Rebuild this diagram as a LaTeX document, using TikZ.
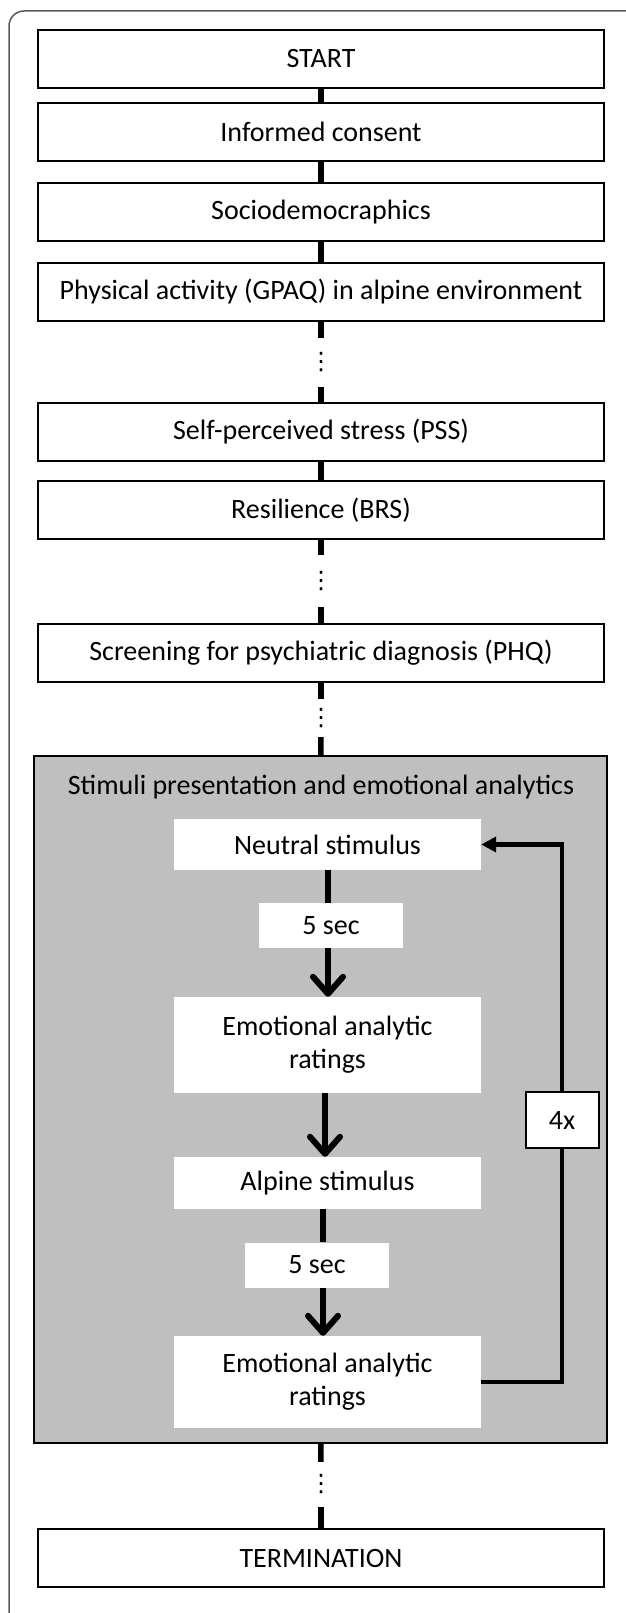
\documentclass[tikz,border=0pt]{standalone}
\usepackage{fontspec}
\setmainfont{Carlito}
\newfontfamily\symbolfont{DejaVu Sans}
\usetikzlibrary{arrows.meta}

\definecolor{boxgray}{RGB}{191,191,191}
\definecolor{framegray}{RGB}{90,90,90}
\newcommand{\skipdots}{{\symbolfont\fontsize{24}{24}\selectfont ⋮}}

\tikzset{
  txt/.style={font=\fontsize{28}{33}\selectfont},
  stagebox/.style={txt, draw, line width=2pt, minimum width=566pt, minimum height=58pt, inner sep=0pt},
  stepbox/.style={txt, fill=white, minimum width=307pt, inner sep=0pt, align=center},
  waitbox/.style={txt, fill=white, minimum width=144pt, minimum height=45pt, inner sep=0pt},
  skipnode/.style={inner sep=0pt, minimum height=#1},
  link/.style={line width=5.5pt},
  flow/.style={line width=6pt, -{Straight Barb[length=17pt,width=30pt,round]}},
  loopline/.style={line width=4.5pt}
}

\begin{document}
\begin{tikzpicture}[x=1pt, y=-1pt]
  \useasboundingbox (0,0) rectangle (625,1613);
  % outer frame
  \draw[framegray, line width=1.5pt, rounded corners=15pt] (9,1630) -- (9,11) -- (650,11);

  % questionnaire column
  \foreach \lbl/\yy/\nm in {START/59/start, Informed consent/132/consent, Sociodemocraphics/212/socio,
      Physical activity (GPAQ) in alpine environment/292/gpaq, Self-perceived stress (PSS)/432/pss,
      Resilience (BRS)/510/brs, Screening for psychiatric diagnosis (PHQ)/653/phq, TERMINATION/1558/term} {
    \node[stagebox] (\nm) at (321,\yy) {\lbl};
  }
  % skipped parts
  \node[skipnode=49pt] (skipa) at (321,362.5) {\skipdots};
  \node[skipnode=52pt] (skipb) at (321,581) {\skipdots};
  \node[skipnode=38pt] (skipc) at (321,718) {\skipdots};
  \node[skipnode=45pt] (skipd) at (321,1484.5) {\skipdots};

  % stimuli block
  \node[draw, line width=2pt, fill=boxgray, minimum width=573pt, minimum height=687pt] (stimuli) at (320.5,1099.5) {};
  \node[txt] (title) at (321,787) {Stimuli presentation and emotional analytics};

  \node[stepbox, minimum height=51pt] (neutral) at (327.5,844.5) {Neutral stimulus};
  \node[waitbox] (waita) at (331,925.5) {5 sec};
  \node[stepbox, minimum height=96pt] (ratinga) at (327.5,1045) {Emotional analytic\\ratings};
  \node[stepbox, minimum height=52pt] (alpine) at (327.5,1183) {Alpine stimulus};
  \node[waitbox] (waitb) at (317,1265) {5 sec};
  \node[stepbox, minimum height=92pt] (ratingb) at (327.5,1382) {Emotional analytic\\ratings};
  \node[txt, draw, fill=white, line width=2pt, minimum width=73pt, minimum height=56pt, inner sep=0pt] (repeat) at (562,1120) {4x};

  % connectors
  \foreach \a/\b in {start/consent, consent/socio, socio/gpaq, gpaq/skipa, skipa/pss, pss/brs,
      brs/skipb, skipb/phq, phq/skipc, skipc/stimuli, stimuli/skipd, skipd/term} {
    \draw[link] (\a) -- (\b);
  }
  \draw[link] (neutral.south -| 328,0) -- (waita.north -| 328,0);
  \draw[flow] (waita.south -| 328,0) -- (ratinga.north -| 328,0);
  \draw[flow] (ratinga.south -| 325,0) -- (alpine.north -| 325,0);
  \draw[link] (alpine.south -| 323,0) -- (waitb.north -| 323,0);
  \draw[flow] (waitb.south -| 323,0) -- (ratingb.north -| 323,0);

  % repetition loop
  \draw[loopline] (ratingb.east) -| (repeat.south);
  \draw[loopline, -{Triangle[length=15pt,width=15pt]}] (repeat.north) |- (neutral.east);
\end{tikzpicture}
\end{document}
